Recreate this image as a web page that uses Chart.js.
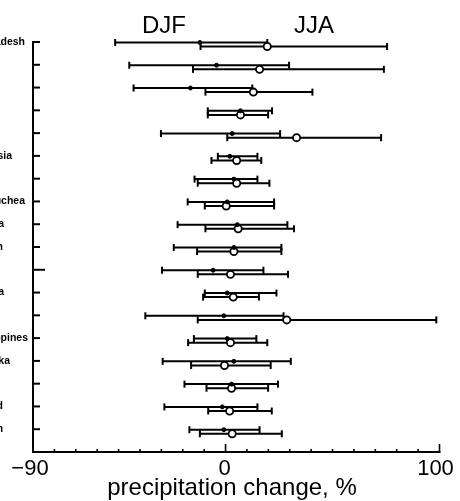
<!DOCTYPE html>
<html><head><meta charset="utf-8">
<script src="https://cdn.jsdelivr.net/npm/chart.js@4.4.1/dist/chart.umd.min.js"></script>
<style>html,body{margin:0;padding:0;background:#fff}canvas{display:block}</style>
</head><body>
<canvas id="c" width="460" height="501"></canvas>
<script>
// Row names (only the tail of some names is visible in the cropped original)
const categories = ['Bangladesh','','','','','Indonesia','','Kampuchea','Korea','Japan','','Malaysia','','Philippines','Sri Lanka','','Thailand','Vietnam'];
// DJF range (low / central / high), precipitation change %
const djfLow  = [-51.6,-45.0,-43.0,-8.3,-30.2,-3.6,-14.5,-17.7,-22.4,-24.2,-29.7,-9.7,-37.5,-14.8,-29.4,-19.2,-28.6,-16.9];
const djfMid  = [-12.0,-4.2,-16.4,7.0,3.1,2.0,3.9,0.8,5.5,3.9,-5.8,0.8,-0.8,0.8,3.9,2.8,-1.5,-0.8];
const djfHigh = [19.5,29.7,12.5,21.7,25.5,14.9,14.9,22.7,28.9,26.1,17.7,23.8,27.1,14.4,30.5,24.5,14.9,15.9];
// JJA range (low / central / high)
const jjaLow  = [-11.7,-15.2,-9.4,-8.3,0.8,-6.6,-13.0,-9.7,-9.4,-13.3,-13.0,-10.5,-13.0,-17.5,-16.1,-8.9,-8.1,-12.0];
const jjaMid  = [19.5,15.9,13.0,7.0,33.2,5.2,5.2,0.3,5.9,3.9,2.3,3.6,28.6,2.3,-0.5,2.8,1.9,3.1];
const jjaHigh = [75.5,74.0,40.6,19.9,72.7,16.7,20.5,22.7,32.0,26.1,29.2,15.6,98.5,19.5,21.1,19.9,21.6,26.3];
// x tick labels
const xTickLabels = {'-90':'\u221290','0':'0','100':'100'};
const seriesLabels = ['DJF','JJA'];
const axisTitle = 'precipitation change, %';

// layout (kept separate from data)
const DJF_DY = 0.02, JJA_DY = 0.2;
const labelRight = {0:25,5:12,7:25,8:4,9:3,11:4,13:28,14:10,16:3,17:3};

function rangeData(lo, hi, dy){
  const out = [];
  lo.forEach((v,i)=>{
    out.push({x:v, y:i+1+dy});
    out.push({x:hi[i], y:i+1+dy});
    out.push({x:null, y:null});
  });
  return out;
}
function midData(mid, dy){ return mid.map((v,i)=>({x:v, y:i+1+dy})); }

const FONT = '"Liberation Sans", Arial, Helvetica, sans-serif';

const deco = {
  id:'deco',
  beforeDatasetsDraw(chart){
    const {ctx} = chart, xs = chart.scales.x, ys = chart.scales.y;
    const x0 = xs.getPixelForValue(-90), x1 = xs.getPixelForValue(100);
    const yTop = ys.getPixelForValue(1), yBot = ys.getPixelForValue(19);
    ctx.save();
    ctx.strokeStyle = '#000'; ctx.lineWidth = 2; ctx.lineCap = 'square';
    ctx.beginPath();
    ctx.moveTo(x0, yTop); ctx.lineTo(x0, yBot); ctx.lineTo(x1, yBot);
    ctx.stroke();
    ctx.lineCap = 'butt';
    for (let i=1;i<=18;i++){
      const y = ys.getPixelForValue(i);
      const len = (i===11)?12:7;
      ctx.beginPath(); ctx.moveTo(x0, y); ctx.lineTo(x0+len, y); ctx.stroke();
    }
    ctx.lineWidth = 1.6;
    for (let v=-80; v<=100; v+=10){
      const x = xs.getPixelForValue(v);
      const len = (v===0||v===100)?8:3;
      ctx.beginPath(); ctx.moveTo(x, yBot); ctx.lineTo(x, yBot-len); ctx.stroke();
    }
    ctx.restore();
  },
  afterDraw(chart){
    const {ctx} = chart, xs = chart.scales.x, ys = chart.scales.y;
    ctx.save();
    ctx.fillStyle = '#000';
    ctx.textBaseline = 'alphabetic';
    ctx.textAlign = 'center';
    ctx.font = '22px ' + FONT;
    const offs = {'-90':-3,'0':-1,'100':-4};
    Object.keys(xTickLabels).forEach(k=>{
      ctx.fillText(xTickLabels[k], xs.getPixelForValue(+k)+offs[k], 475);
    });
    ctx.font = '24px ' + FONT;
    ctx.fillText(axisTitle, 232, 495);
    ctx.font = '24px ' + FONT;
    ctx.fillText(seriesLabels[0], 164, 33);
    ctx.fillText(seriesLabels[1], 314, 33);
    ctx.font = 'bold 10.5px ' + FONT;
    ctx.textAlign = 'right';
    ctx.textBaseline = 'middle';
    categories.forEach((c,i)=>{
      if (!c) return;
      ctx.fillText(c, labelRight[i], ys.getPixelForValue(i+1));
    });
    ctx.restore();
  }
};

new Chart(document.getElementById('c'), {
  type:'scatter',
  data:{ datasets:[
    { label:'DJF central', data: midData(djfMid, DJF_DY), pointStyle:'circle', pointRadius:2,
      pointBackgroundColor:'#000', pointBorderColor:'#000', pointBorderWidth:1, showLine:false, clip:false },
    { label:'JJA central', data: midData(jjaMid, JJA_DY), pointStyle:'circle', pointRadius:3.6,
      pointBackgroundColor:'#fff', pointBorderColor:'#000', pointBorderWidth:1.8, showLine:false, clip:false },
    { label:'DJF range', data: rangeData(djfLow, djfHigh, DJF_DY), showLine:true, spanGaps:false,
      borderColor:'#000', borderWidth:2, pointStyle:'line', rotation:90, pointRadius:3.5,
      pointBorderColor:'#000', pointBorderWidth:2, clip:false },
    { label:'JJA range', data: rangeData(jjaLow, jjaHigh, JJA_DY), showLine:true, spanGaps:false,
      borderColor:'#000', borderWidth:2, pointStyle:'line', rotation:90, pointRadius:3.5,
      pointBorderColor:'#000', pointBorderWidth:2, clip:false }
  ]},
  options:{
    responsive:false, animation:false, devicePixelRatio:1,
    layout:{ padding:{ left:33, right:20.5, top:42, bottom:49 } },
    plugins:{ legend:{display:false}, tooltip:{enabled:false} },
    scales:{
      x:{ type:'linear', min:-90, max:100, display:false },
      y:{ type:'linear', min:1, max:19, reverse:true, display:false }
    }
  },
  plugins:[deco]
});
</script>
</body></html>
